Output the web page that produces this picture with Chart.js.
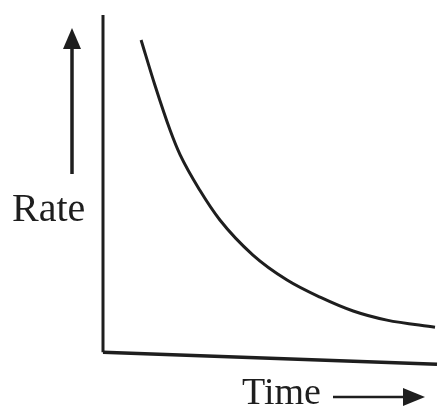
<!DOCTYPE html>
<html>
<head>
<meta charset="utf-8">
<script src="https://cdn.jsdelivr.net/npm/chart.js@4/dist/chart.umd.min.js"></script>
<style>
  html, body { margin: 0; padding: 0; background: #fff; }
  #wrap { width: 440px; height: 412px; position: relative; }
  canvas { filter: blur(0.6px); }
</style>
</head>
<body>
<div id="wrap"><canvas id="chart" width="440" height="412"></canvas></div>
<script>
// rate-vs-time decay curve
const timeValues = [1.14, 1.56, 2.01, 2.31, 2.90, 3.50, 4.49, 5.51, 6.50, 7.49, 8.50, 9.94]
const rateValues = [9.26, 7.90, 6.58, 5.85, 4.80, 3.92, 2.88, 2.14, 1.63, 1.22, 0.95, 0.74]

// hand-drawn axes (x-axis sags a little toward the right)
const yAxisX = [0, 0]
const yAxisY = [0, 10]
const xAxisX = [0, 10]
const xAxisY = [0, -0.36]

const yLabel = 'Rate'
const xLabel = 'Time'

const ink = '#1e1e1e'

function pts(xs, ys) {
  return xs.map((x, i) => ({ x: x, y: ys[i] }))
}

// labels and arrows next to the axes
const labelsPlugin = {
  id: 'labels',
  afterDraw(chart) {
    const ctx = chart.ctx
    ctx.save()
    ctx.fillStyle = ink
    ctx.strokeStyle = ink
    ctx.textBaseline = 'alphabetic'
    ctx.font = '40px "Liberation Serif", "Times New Roman", serif'
    ctx.fillText(yLabel, 12, 221)
    ctx.font = '38px "Liberation Serif", "Times New Roman", serif'
    ctx.fillText(xLabel, 242, 404)

    // up arrow
    ctx.lineWidth = 3.5
    ctx.beginPath()
    ctx.moveTo(72, 174)
    ctx.lineTo(72, 44)
    ctx.stroke()
    ctx.beginPath()
    ctx.moveTo(72, 28)
    ctx.lineTo(81, 49)
    ctx.lineTo(63, 49)
    ctx.closePath()
    ctx.fill()

    // right arrow
    ctx.lineWidth = 2.5
    ctx.beginPath()
    ctx.moveTo(333, 397)
    ctx.lineTo(408, 397)
    ctx.stroke()
    ctx.beginPath()
    ctx.moveTo(425, 397)
    ctx.lineTo(403, 388)
    ctx.lineTo(403, 406)
    ctx.closePath()
    ctx.fill()
    ctx.restore()
  },
}

new Chart(document.getElementById('chart'), {
  type: 'line',
  data: {
    datasets: [
      {
        data: pts(timeValues, rateValues),
        borderColor: ink,
        borderWidth: 3,
        pointRadius: 0,
        cubicInterpolationMode: 'monotone',
        clip: false,
      },
      {
        data: pts(yAxisX, yAxisY),
        borderColor: ink,
        borderWidth: 3,
        pointRadius: 0,
        clip: false,
      },
      {
        data: pts(xAxisX, xAxisY),
        borderColor: ink,
        borderWidth: 3.5,
        pointRadius: 0,
        clip: false,
      },
    ],
  },
  options: {
    responsive: false,
    animation: false,
    layout: { padding: { left: 103, right: 3, top: 15, bottom: 43 } },
    plugins: {
      legend: { display: false },
      tooltip: { enabled: false },
    },
    scales: {
      x: { type: 'linear', min: 0, max: 10, display: false },
      y: { type: 'linear', min: -0.5, max: 10, display: false },
    },
  },
  plugins: [labelsPlugin],
})
</script>
</body>
</html>
